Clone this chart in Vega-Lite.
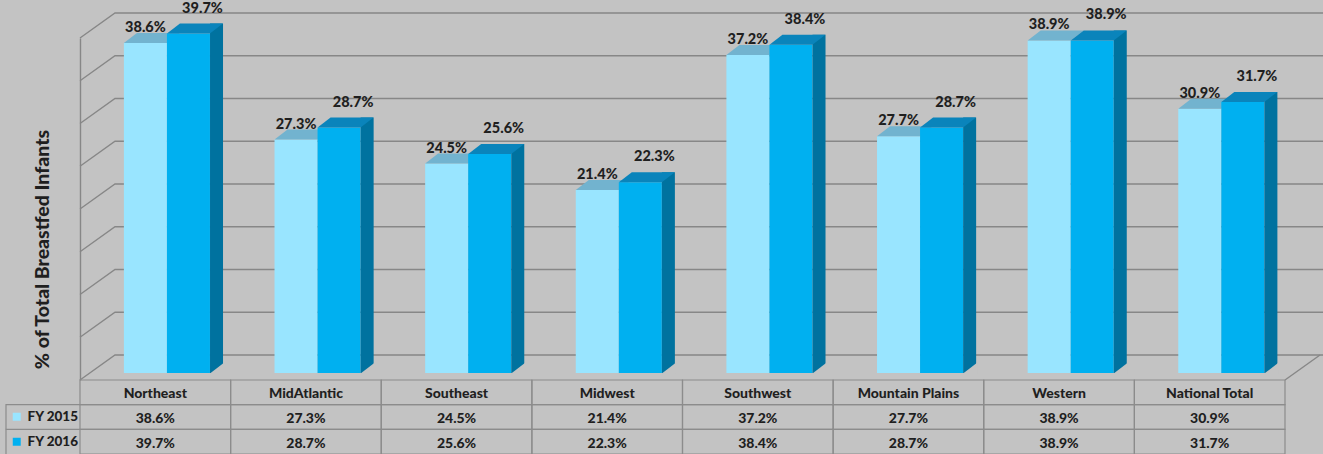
{
  "$schema": "https://vega.github.io/schema/vega-lite/v6.json",
  "width": 1205,
  "height": 342,
  "autosize": {"type": "none"},
  "padding": {"left": 80, "top": 38, "right": 38, "bottom": 74},
  "background": "#c3c3c3",
  "config": {"view": {"stroke": null}, "font": "Lato", "text": {"font": "Lato"}},
  "datasets": {
    "main": [
      {"region": "Northeast", "series": "FY 2015", "value": 0.386},
      {"region": "Northeast", "series": "FY 2016", "value": 0.397},
      {"region": "MidAtlantic", "series": "FY 2015", "value": 0.273},
      {"region": "MidAtlantic", "series": "FY 2016", "value": 0.287},
      {"region": "Southeast", "series": "FY 2015", "value": 0.245},
      {"region": "Southeast", "series": "FY 2016", "value": 0.256},
      {"region": "Midwest", "series": "FY 2015", "value": 0.214},
      {"region": "Midwest", "series": "FY 2016", "value": 0.223},
      {"region": "Southwest", "series": "FY 2015", "value": 0.372},
      {"region": "Southwest", "series": "FY 2016", "value": 0.384},
      {"region": "Mountain Plains", "series": "FY 2015", "value": 0.277},
      {"region": "Mountain Plains", "series": "FY 2016", "value": 0.287},
      {"region": "Western", "series": "FY 2015", "value": 0.389},
      {"region": "Western", "series": "FY 2016", "value": 0.389},
      {"region": "National Total", "series": "FY 2015", "value": 0.309},
      {"region": "National Total", "series": "FY 2016", "value": 0.317}
    ],
    "grid": [
      {"g": 0}, {"g": 0.05}, {"g": 0.1}, {"g": 0.15}, {"g": 0.2},
      {"g": 0.25}, {"g": 0.3}, {"g": 0.35}, {"g": 0.4}
    ],
    "corner": [{"k": 1}]
  },
  "layer": [
    {
      "layer": [
        {
          "data": {"name": "grid"},
          "mark": {"type": "point", "shape": "M 0 0 L 1 -0.714 L 35.6 -0.714", "size": 4900, "filled": false, "stroke": "#878787", "strokeWidth": 1.4, "opacity": 1},
          "encoding": {
            "x": {"datum": "Northeast", "type": "nominal", "bandPosition": 0, "axis": null,
                  "scale": {"type": "band", "domain": ["Northeast", "MidAtlantic", "Southeast", "Midwest", "Southwest", "Mountain Plains", "Western", "National Total"], "paddingInner": 0, "paddingOuter": 0}},
            "y": {"field": "g", "type": "quantitative", "scale": {"domain": [0, 0.4], "nice": false, "zero": true},
                  "axis": {"title": "% of Total Breastfed Infants", "labels": false, "ticks": false, "grid": false, "domain": true, "domainColor": "#878787", "domainWidth": 1.4,
                           "titleFontSize": 19.5, "titleFontWeight": 900, "titleColor": "#1f1f1f", "titleFont": "Lato",
                           "titleX": -38, "titleY": 211, "titleAlign": "center", "titleBaseline": "middle", "titleAngle": -90}}
          }
        },
        {
          "data": {"name": "corner"},
          "mark": {"type": "point", "shape": "M 0 0 L 1 -0.714", "size": 4900, "filled": false, "stroke": "#878787", "strokeWidth": 1.4, "opacity": 1},
          "encoding": {
            "x": {"datum": "National Total", "type": "nominal", "bandPosition": 1, "axis": null},
            "y": {"datum": 0, "type": "quantitative"}
          }
        },
        {
          "data": {"name": "main"},
          "transform": [{"filter": "datum.series == 'FY 2015'"}],
          "mark": {"type": "bar", "yOffset": -7, "y2Offset": -7},
          "encoding": {
            "x": {"field": "region", "type": "nominal", "axis": null},
            "xOffset": {"field": "series", "type": "nominal", "scale": {"domain": ["FY 2015", "FY 2016"], "paddingInner": 0, "paddingOuter": 0.75, "align": 0.68}},
            "y": {"field": "value", "type": "quantitative"},
            "y2": {"datum": 0},
            "color": {"field": "series", "type": "nominal",
                      "scale": {"domain": ["FY 2015", "FY 2016"], "range": ["#99e5ff", "#00b0f0"]},
                      "legend": {"orient": "none", "legendX": -70, "legendY": 372, "title": null, "symbolType": "square", "symbolSize": 64, "symbolStrokeWidth": 0, "symbolOpacity": 1,
                                 "labelFontSize": 13.5, "labelFontWeight": 900, "labelColor": "#1f1f1f", "labelFont": "Lato", "rowPadding": 10, "padding": 0, "labelOffset": 4}}
          }
        },
        {
          "data": {"name": "main"},
          "transform": [{"filter": "datum.series == 'FY 2015'"}],
          "mark": {"type": "point", "shape": "M -2.15 0 L -0.85 -1 L 3.45 -1 L 2.15 0 Z", "size": 400, "filled": true, "fill": "#72b3cf", "strokeWidth": 0, "opacity": 1, "yOffset": -7},
          "encoding": {
            "x": {"field": "region", "type": "nominal", "axis": null},
            "xOffset": {"field": "series", "type": "nominal"},
            "y": {"field": "value", "type": "quantitative"}
          }
        },
        {
          "data": {"name": "main"},
          "transform": [{"filter": "datum.series == 'FY 2016'"}],
          "mark": {"type": "bar", "yOffset": -7, "y2Offset": -7},
          "encoding": {
            "x": {"field": "region", "type": "nominal", "axis": null},
            "xOffset": {"field": "series", "type": "nominal"},
            "y": {"field": "value", "type": "quantitative"},
            "y2": {"datum": 0},
            "color": {"field": "series", "type": "nominal"}
          }
        },
        {
          "data": {"name": "main"},
          "transform": [{"filter": "datum.series == 'FY 2016'"}],
          "mark": {"type": "bar", "width": 13, "xOffset": 61.2, "yOffset": -17, "y2Offset": -7, "color": "#00729f"},
          "encoding": {
            "x": {"field": "region", "type": "nominal", "axis": null},
            "y": {"field": "value", "type": "quantitative"},
            "y2": {"datum": 0}
          }
        },
        {
          "data": {"name": "main"},
          "transform": [{"filter": "datum.series == 'FY 2016'"}],
          "mark": {"type": "point", "shape": "M -2.15 0 L -0.85 -1 L 3.45 -1 L 2.15 0 Z", "size": 400, "filled": true, "fill": "#0a84bb", "strokeWidth": 0, "opacity": 1, "yOffset": -7},
          "encoding": {
            "x": {"field": "region", "type": "nominal", "axis": null},
            "xOffset": {"field": "series", "type": "nominal"},
            "y": {"field": "value", "type": "quantitative"}
          }
        },
        {
          "data": {"name": "main"},
          "transform": [{"filter": "datum.series == 'FY 2016'"}],
          "mark": {"type": "point", "shape": "M 2.15 0.06 L 3.55 0.06 L 3.55 -1.02 Z", "size": 400, "filled": true, "fill": "#c3c3c3", "strokeWidth": 0, "opacity": 1, "yOffset": -7},
          "encoding": {
            "x": {"field": "region", "type": "nominal", "axis": null},
            "xOffset": {"field": "series", "type": "nominal"},
            "y": {"datum": 0, "type": "quantitative"}
          }
        },
        {
          "data": {"name": "main"},
          "transform": [{"filter": "datum.series == 'FY 2015'"}],
          "mark": {"type": "text", "fontSize": 14.5, "fontWeight": 900, "color": "#1f1f1f", "baseline": "alphabetic", "align": "center", "yOffset": -7, "dy": -11},
          "encoding": {
            "x": {"field": "region", "type": "nominal", "axis": null},
            "xOffset": {"field": "series", "type": "nominal"},
            "y": {"field": "value", "type": "quantitative"},
            "text": {"field": "value", "type": "quantitative", "format": ".1%"}
          }
        },
        {
          "data": {"name": "main"},
          "transform": [{"filter": "datum.series == 'FY 2016'"}],
          "mark": {"type": "text", "fontSize": 14.5, "fontWeight": 900, "color": "#1f1f1f", "baseline": "alphabetic", "align": "center", "yOffset": -7, "dy": -21, "dx": 14},
          "encoding": {
            "x": {"field": "region", "type": "nominal", "axis": null},
            "xOffset": {"field": "series", "type": "nominal"},
            "y": {"field": "value", "type": "quantitative"},
            "text": {"field": "value", "type": "quantitative", "format": ".1%"}
          }
        }
      ]
    },
    {
      "layer": [
        {
          "data": {"name": "main"},
          "mark": {"type": "rect", "fill": "transparent", "stroke": "#8c8c8c", "strokeWidth": 1.2},
          "encoding": {
            "x": {"field": "region", "type": "nominal", "axis": null},
            "y": {"field": "series", "type": "nominal", "axis": null,
                  "scale": {"type": "band", "domain": ["header", "FY 2015", "FY 2016"], "range": [342, 416], "paddingInner": 0, "paddingOuter": 0}}
          }
        },
        {
          "data": {"name": "main"},
          "transform": [{"filter": "datum.series == 'FY 2015'"}],
          "mark": {"type": "rect", "fill": "transparent", "stroke": "#8c8c8c", "strokeWidth": 1.2},
          "encoding": {
            "x": {"field": "region", "type": "nominal", "axis": null},
            "y": {"datum": "header", "type": "nominal", "axis": null}
          }
        },
        {
          "data": {"name": "main"},
          "transform": [{"filter": "datum.region == 'Northeast'"}],
          "mark": {"type": "point", "shape": "M 0 0 L -1 0 L -1 0.334", "size": 21904, "filled": false, "stroke": "#8c8c8c", "strokeWidth": 1.2, "opacity": 1},
          "encoding": {
            "x": {"datum": "Northeast", "type": "nominal", "bandPosition": 0, "axis": null},
            "y": {"field": "series", "type": "nominal", "bandPosition": 0, "axis": null}
          }
        },
        {
          "data": {"name": "main"},
          "transform": [{"filter": "datum.series == 'FY 2015'"}],
          "mark": {"type": "text", "fontSize": 14, "fontWeight": 900, "color": "#1f1f1f", "baseline": "middle", "align": "center", "dy": 2},
          "encoding": {
            "x": {"field": "region", "type": "nominal", "axis": null},
            "y": {"datum": "header", "type": "nominal", "axis": null},
            "text": {"field": "region", "type": "nominal"}
          }
        },
        {
          "data": {"name": "main"},
          "mark": {"type": "text", "fontSize": 14, "fontWeight": 900, "color": "#1f1f1f", "baseline": "middle", "align": "center", "dy": 2},
          "encoding": {
            "x": {"field": "region", "type": "nominal", "axis": null},
            "y": {"field": "series", "type": "nominal", "axis": null},
            "text": {"field": "value", "type": "quantitative", "format": ".1%"}
          }
        }
      ]
    }
  ],
  "resolve": {"scale": {"y": "independent"}}
}
